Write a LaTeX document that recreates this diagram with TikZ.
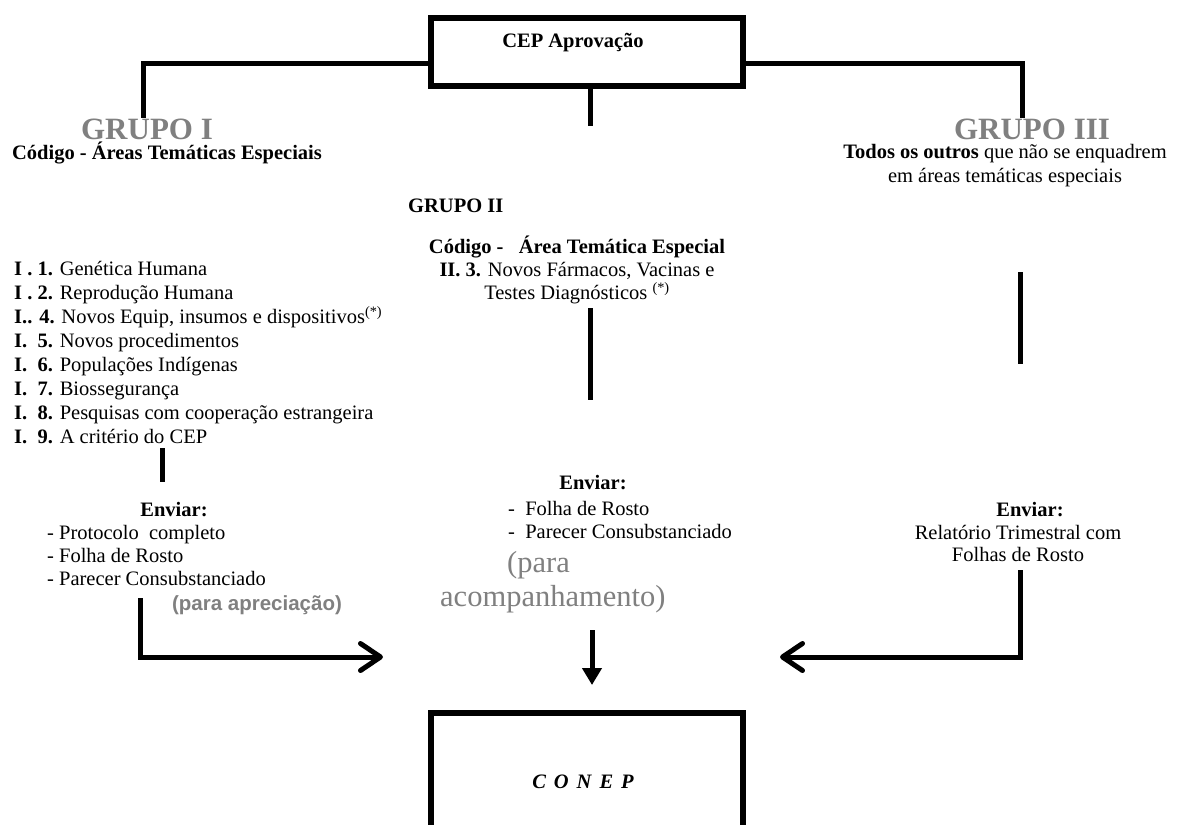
\documentclass[tikz,border=0pt]{standalone}
\usepackage{fontspec}
\setmainfont{Liberation Serif}
\newfontfamily\arialf{Liberation Sans}
\usetikzlibrary{arrows.meta}
\definecolor{grp}{HTML}{808080}
\begin{document}
\begin{tikzpicture}[x=1pt,y=-1pt,
  txt/.style={inner sep=0pt, font=\fontsize{20.5}{24}\selectfont},
  txtb/.style={inner sep=0pt, font=\fontsize{20.5}{24}\selectfont\bfseries},
  lst/.style={inner sep=0pt, font=\fontsize{20.5}{23}\selectfont},
  big/.style={inner sep=0pt, font=\fontsize{31}{36}\selectfont\bfseries, text=grp},
  conn/.style={line width=5pt},
  boxst/.style={draw, line width=6pt, inner sep=0pt, minimum width=312pt},
  openarr/.style={conn, -{Straight Barb[length=20pt,width=27pt,round]}},
  fillarr/.style={conn, -{Triangle[length=17pt,width=19pt]}},
]
\useasboundingbox (0,0) rectangle (1179,825);
\clip (0,0) rectangle (1179,825);

% boxes
\node[boxst, minimum height=68pt] (cep) at (587,52) {};
\node[txtb] (ceplbl) at (573,43) {CEP Aprovação};
\node[boxst, minimum height=240pt] (conep) at (587,832.5) {};
\node[inner sep=0pt, font=\fontsize{20.5}{24}\selectfont\bfseries\itshape] (conepl) at (583,782)
  {C\hspace{8pt}O\hspace{8pt}N\hspace{8pt}E\hspace{8pt}P};

% group headings
\node[big] (g1) at (147,129) {GRUPO I};
\node[txtb] (g1code) at (167,153) {Código - Áreas Temáticas Especiais};
\node[big] (g3) at (1032,129) {GRUPO III};
\node[inner sep=0pt, font=\fontsize{20.5}{24}\selectfont, align=center] (g3desc) at (1005,166)
  {\textbf{Todos os outros} que não se enquadrem\\em áreas temáticas especiais};
\node[txtb, anchor=west] (g2) at (408,206) {GRUPO II};
\node[lst, align=center] (g2code) at (577,270)
  {\textbf{Código -\ \ \ Área Temática Especial}\\
   \textbf{II. 3.} Novos Fármacos, Vacinas e\\
   Testes Diagnósticos \textsuperscript{(*)}};

% group I list
\node[txt, align=left, anchor=west] (g1list) at (14,353)
  {\textbf{I . 1.} Genética Humana\\
   \textbf{I . 2.} Reprodução Humana\\
   \textbf{I.. 4.} Novos Equip, insumos e dispositivos\textsuperscript{(*)}\\
   \textbf{I.\ \ 5.} Novos procedimentos\\
   \textbf{I.\ \ 6.} Populações Indígenas\\
   \textbf{I.\ \ 7.} Biossegurança\\
   \textbf{I.\ \ 8.} Pesquisas com cooperação estrangeira\\
   \textbf{I.\ \ 9.} A critério do CEP};

% Enviar blocks
\node[txtb] (e1) at (174,510) {Enviar:};
\node[lst, align=left, anchor=west] (e1list) at (47,555)
  {- Protocolo\ \ completo\\- Folha de Rosto\\- Parecer Consubstanciado};
\node[inner sep=0pt, font=\arialf\bfseries\fontsize{20.5}{24}\selectfont, text=grp] (apr) at (257,605)
  {(para apreciação)};

\node[txtb] (e2) at (593,483) {Enviar:};
\node[lst, align=left, anchor=west] (e2list) at (508,520)
  {-\ \ Folha de Rosto\\-\ \ Parecer Consubstanciado};
\node[inner sep=0pt, font=\fontsize{30.5}{34}\selectfont, text=grp, align=left, anchor=west] (acomp) at (440,582)
  {\hspace*{67pt}(para\\acompanhamento)};

\node[inner sep=0pt, font=\fontsize{20.5}{22.5}\selectfont, align=center] (e3) at (1018,532)
  {\hspace*{24pt}\textbf{Enviar:}\\Relatório Trimestral com\\Folhas de Rosto};

% connectors from CEP box
\coordinate (lj) at (143,63);
\coordinate (g1c) at (143,118);
\coordinate (rj) at (1022,63);
\coordinate (g3c) at (1022,118);
\coordinate (g2s) at (590,126);
\draw[conn] (cep.west |- lj) -| (g1c);
\draw[conn] (cep.east |- rj) -| (g3c);
\draw[conn] (cep.south -| g2s) -- (g2s);

% vertical strokes
\coordinate (s1a) at (162,448); \coordinate (s1b) at (162,482);
\coordinate (s2a) at (590,308); \coordinate (s2b) at (590,400);
\coordinate (s3a) at (1020,272); \coordinate (s3b) at (1020,364);
\draw[conn] (s1a) -- (s1b);
\draw[conn] (s2a) -- (s2b);
\draw[conn] (s3a) -- (s3b);

% arrows to CONEP
\coordinate (la) at (140,598); \coordinate (ltip) at (383,657);
\coordinate (ra) at (1020,570); \coordinate (rtip) at (780,657);
\coordinate (ma) at (592,630); \coordinate (mtip) at (592,685);
\draw[openarr] (la) |- (ltip);
\draw[openarr] (ra) |- (rtip);
\draw[fillarr] (ma) -- (mtip);
\end{tikzpicture}
\end{document}
